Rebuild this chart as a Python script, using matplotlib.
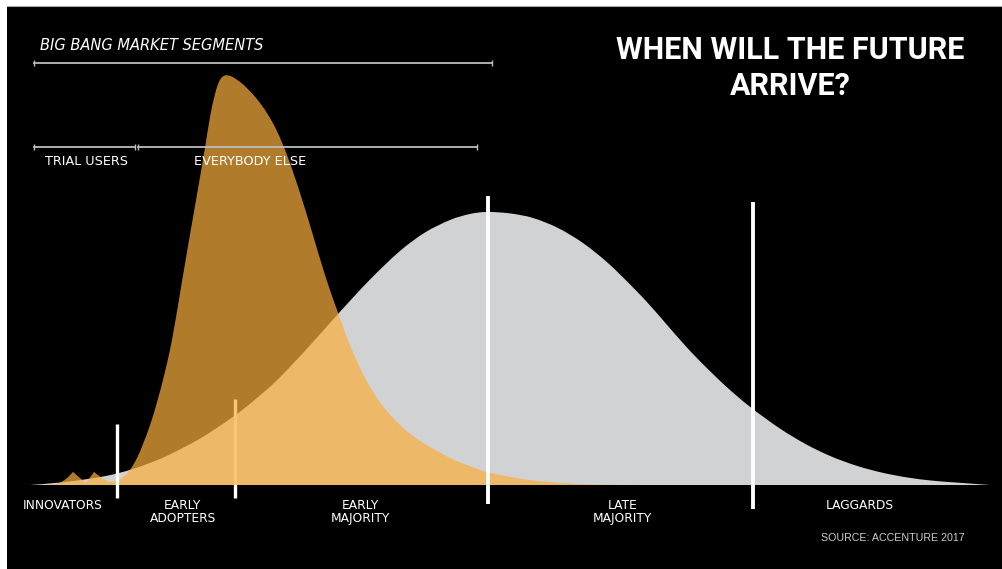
import numpy as np
import matplotlib
matplotlib.use('Agg')
import matplotlib.pyplot as plt
from matplotlib.patches import Rectangle, PathPatch
from matplotlib.path import Path

# classic adoption bell curve (x: time 0-100, y: share, big bang peak = 100)
bell_x = [0.0, 3.1, 6.25, 8.33, 10.42, 12.5, 14.27, 17.71, 21.15, 23.44, 25.73, 28.85, 31.98,
          35.42, 38.54, 41.15, 43.75, 45.83, 47.6, 50.0, 52.4, 55.0, 57.6, 60.2, 62.8,
          64.6, 66.35, 68.0, 69.8, 72.4, 75.0, 78.1, 80.9, 83.5, 86.15, 88.75, 91.35,
          93.96, 96.56, 100.0]
bell_y = [0.0, 0.59, 1.54, 2.41, 3.68, 5.39, 7.12, 11.32, 16.63, 20.83, 25.56, 33.24, 41.44,
          50.12, 57.07, 61.59, 64.63, 66.1, 66.59, 66.24, 65.12, 62.68, 59.02, 54.15, 48.22,
          43.76, 39.07, 34.66, 30.17, 24.27, 19.07, 13.8, 9.85, 6.93, 4.66, 3.02, 1.85,
          1.07, 0.59, 0.0]

# big bang adoption curve
bang_x = [0.0, 2.6, 3.75, 4.48, 5.21, 5.83, 6.67, 7.5, 8.33, 8.85, 9.58, 10.42, 11.15,
          11.77, 12.5, 13.23, 14.06, 14.79, 15.63, 16.35, 17.08, 17.71, 18.33, 18.85, 19.38,
          19.79, 20.31, 21.04, 21.88, 22.6, 23.65, 24.69, 25.73, 26.88, 28.13, 29.38, 30.73,
          31.98, 33.33, 34.69, 36.15, 37.71, 39.38, 41.15, 43.75, 45.83, 47.92, 52.08, 57.29,
          63.54]
bang_y = [0.0, 0.2, 1.5, 3.2, 1.7, 0.5, 3.2, 1.7, 0.7, 1.0, 1.7, 3.7, 6.6,
          10.0, 14.6, 20.2, 27.6, 35.4, 46.8, 56.8, 66.6, 75.1, 83.7, 91.0, 96.3,
          98.8, 99.9, 99.6, 98.3, 96.8, 94.1, 90.7, 86.3, 79.8, 71.2, 61.7, 51.2,
          42.7, 34.1, 27.1, 21.2, 16.6, 12.9, 10.0, 6.6, 4.6, 3.0, 1.2, 0.24,
          0.0]
bang_spikes = (3, 5, 6, 8)

phase_names = ['INNOVATORS', 'EARLY\nADOPTERS', 'EARLY\nMAJORITY', 'LATE\nMAJORITY', 'LAGGARDS']
phase_mid = [3.4, 15.9, 34.4, 61.7, 86.4]
phase_bounds = [9.06, 21.35, 47.7, 75.3]
bound_top = [14.9, 21.0, 70.5, 69.0]
bound_bottom = [-3.2, -3.2, -4.6, -5.9]

# market segment brackets: (label, start, end, level)
seg_big_bang = ('BIG BANG MARKET SEGMENTS', 0.4, 48.1, 102.9)
seg_trial = ('TRIAL USERS', 0.4, 10.9, 82.4)
seg_else = ('EVERYBODY ELSE', 11.25, 46.6, 82.4)

grey = '#d1d2d4'
orange = '#f9af3e'
bracket_col = '#bdbdbd'
comic = ['DejaVu Sans']


def curve_patch(xs, ys, sharp=(), **kw):
    # smooth area under the read points (Catmull-Rom drawn as bezier segments)
    pts = np.column_stack([xs, ys]).astype(float)
    n = len(pts)
    verts = [(pts[0, 0], 0.0), pts[0]]
    codes = [Path.MOVETO, Path.LINETO]
    for i in range(n - 1):
        p0 = pts[max(i - 1, 0)]
        p1, p2 = pts[i], pts[i + 1]
        p3 = pts[min(i + 2, n - 1)]
        t1 = np.zeros(2) if i in sharp else (p2 - p0) / 6
        t2 = np.zeros(2) if (i + 1) in sharp else (p3 - p1) / 6
        verts += [p1 + t1, p2 - t2, p2]
        codes += [Path.CURVE4] * 3
    verts += [(pts[-1, 0], 0.0), (pts[0, 0], 0.0)]
    codes += [Path.LINETO, Path.CLOSEPOLY]
    return PathPatch(Path(verts, codes), **kw)


fig = plt.figure(figsize=(10.02, 5.69), dpi=100, facecolor='white')
fig.patches.append(Rectangle((7 / 1002, 0), 995 / 1002, 1 - 6 / 569, transform=fig.transFigure,
                             facecolor='black', edgecolor='none', zorder=-10))
fig.lines.append(plt.Line2D([7 / 1002, 1], [1 - 5.5 / 569] * 2, transform=fig.transFigure,
                            color='#aaaaaa', lw=0.8))

ax = fig.add_axes([30 / 1002, 84 / 569, 960 / 1002, 410 / 569])
ax.set_xlim(0, 100)
ax.set_ylim(0, 100)
ax.axis('off')

ax.add_patch(curve_patch(bell_x, bell_y, facecolor=grey, edgecolor='none', zorder=1))
ax.add_patch(curve_patch(bang_x, bang_y, sharp=bang_spikes, facecolor=orange, alpha=0.71,
                         edgecolor='none', zorder=3))

for i, (x, top, bot) in enumerate(zip(phase_bounds, bound_top, bound_bottom)):
    z = 2 if i == 1 else 4
    ax.plot([x, x], [bot, top], color='white', lw=2.4 if i < 2 else 2.8,
            solid_capstyle='butt', zorder=z, clip_on=False)

for name, mid in zip(phase_names, phase_mid):
    ax.text(mid, -3.4, name, ha='center', va='top', color='white', fontsize=8.8,
            family=comic, linespacing=1.0, clip_on=False)


def bracket(seg):
    label, x0, x1, lvl = seg
    ax.plot([x0, x1], [lvl, lvl], color=bracket_col, lw=1.3, clip_on=False, zorder=5)
    ax.vlines([x0, x1], lvl - 0.8, lvl + 0.8, color=bracket_col, lw=1.0, clip_on=False, zorder=5)


bracket(seg_big_bang)
bracket(seg_trial)
bracket(seg_else)
ax.text(1.0, 107.1, seg_big_bang[0], ha='left', va='center', color='white', fontsize=10.5,
        style='italic', family=comic, clip_on=False)
ax.text(1.6, 79.0, seg_trial[0], ha='left', va='center', color='white', fontsize=9.2,
        family=comic, clip_on=False, zorder=6)
ax.text(17.1, 78.8, seg_else[0], ha='left', va='center', color='white', fontsize=9.3,
        family=comic, clip_on=False, zorder=6)

ax.text(79.2, 101.8, 'WHEN WILL THE FUTURE\nARRIVE?', ha='center', va='center', color='white',
        fontsize=22, fontweight='bold', family=['Liberation Sans Narrow', 'Roboto', 'DejaVu Sans'],
        linespacing=1.25, clip_on=False)
ax.text(97.4, -12.9, 'SOURCE: ACCENTURE 2017', ha='right', va='center', color='#cccccc',
        fontsize=7.7, family=['Liberation Sans', 'DejaVu Sans'], clip_on=False)

fig.savefig('out.png', dpi=100, facecolor=fig.get_facecolor())
